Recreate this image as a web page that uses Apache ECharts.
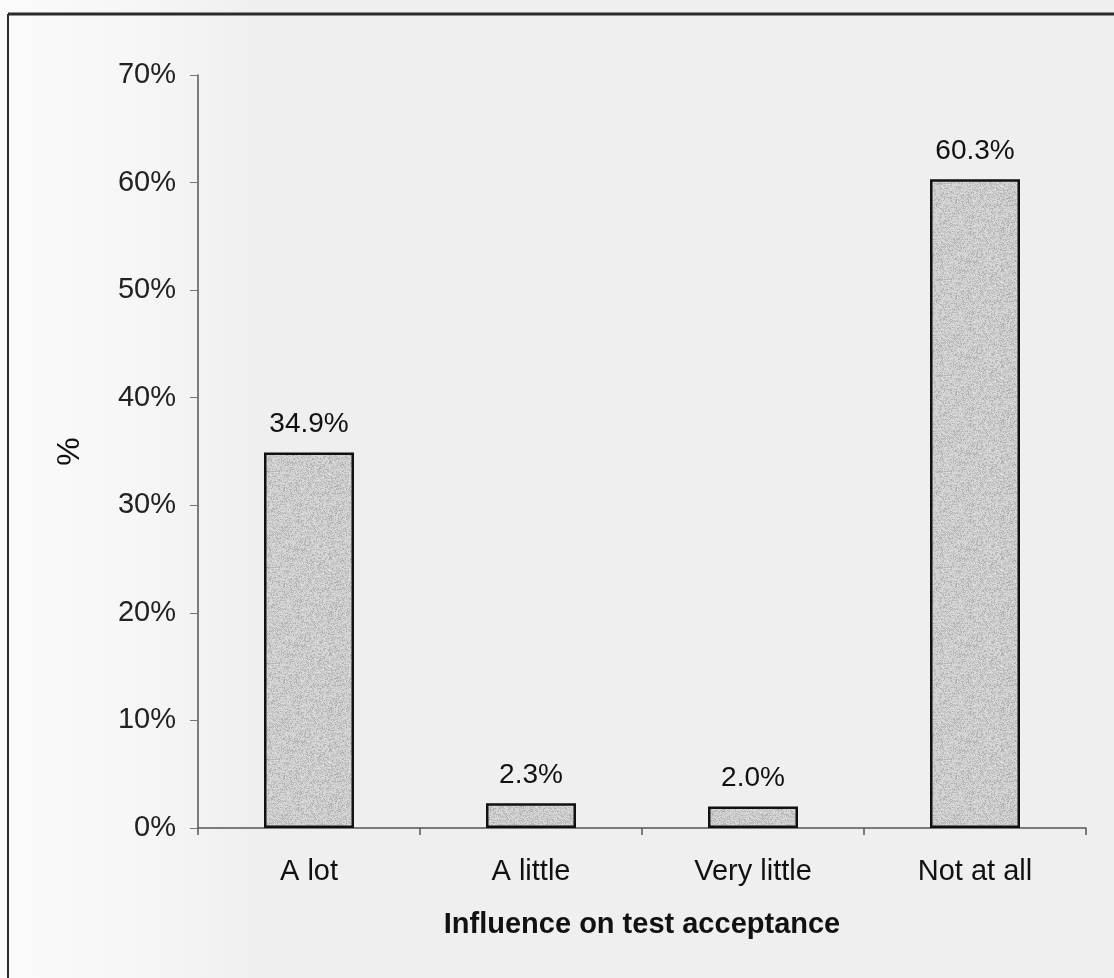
<!DOCTYPE html>
<html>
<head>
<meta charset="utf-8">
<title>Influence on test acceptance</title>
<script src="https://cdn.jsdelivr.net/npm/echarts@6/dist/echarts.min.js"></script>
<style>
  html, body { margin: 0; padding: 0; }
  body {
    width: 1114px; height: 978px; overflow: hidden;
    background: linear-gradient(to right, #fbfbfb 0px, #f6f6f6 140px, #efefef 260px, #efefef 100%);
  }
  #chart { width: 1114px; height: 978px; }
</style>
</head>
<body>
<div id="chart"></div>
<script>
// Share of respondents by how much the factor influenced test acceptance
const categories = ['A lot', 'A little', 'Very little', 'Not at all'];
const percentValues = [34.9, 2.3, 2.0, 60.3];
const yTickLabels = ['0%', '10%', '20%', '30%', '40%', '50%', '60%', '70%'];

const FONT = "'Liberation Sans', Arial, Helvetica, sans-serif";

// Grainy grey fill for the bars, built from a small deterministic hash
function grainPattern() {
  const size = 96;
  const c = document.createElement('canvas');
  c.width = size; c.height = size;
  const ctx = c.getContext('2d');
  const img = ctx.createImageData(size, size);
  let h = 2166136261;
  for (let i = 0; i < size * size; i++) {
    h ^= i; h = Math.imul(h, 16777619) >>> 0;
    h ^= h >>> 13; h = Math.imul(h, 1274126177) >>> 0;
    const r = (h & 255) / 255;
    const v = Math.round(218 - r * r * 48);
    img.data[i * 4] = v; img.data[i * 4 + 1] = v; img.data[i * 4 + 2] = v; img.data[i * 4 + 3] = 255;
  }
  ctx.putImageData(img, 0, 0);
  return c;
}

const chart = echarts.init(document.getElementById('chart'), null, { renderer: 'canvas' });

chart.setOption({
  backgroundColor: 'transparent',
  animation: false,
  grid: { left: 198, right: 28, top: 75, bottom: 150, containLabel: false },
  graphic: [
    { type: 'line', shape: { x1: 8, y1: 14, x2: 1114, y2: 14 }, style: { stroke: '#2a2a2a', lineWidth: 3 } },
    { type: 'line', shape: { x1: 8, y1: 14, x2: 8, y2: 978 }, style: { stroke: '#2a2a2a', lineWidth: 2 } }
  ],
  xAxis: {
    type: 'category',
    data: categories,
    name: 'Influence on test acceptance',
    nameLocation: 'middle',
    nameGap: 82,
    nameTextStyle: { fontFamily: FONT, fontSize: 29, fontWeight: 'bold', color: '#111' },
    axisLine: { show: true, lineStyle: { color: '#555', width: 1.5 } },
    axisTick: { show: true, inside: false, length: 7, alignWithLabel: false, lineStyle: { color: '#555', width: 1.5 } },
    axisLabel: { margin: 29, fontFamily: FONT, fontSize: 29, color: '#111' },
    splitLine: { show: false }
  },
  yAxis: {
    type: 'value',
    min: 0,
    max: 70,
    interval: 10,
    name: '%',
    nameLocation: 'middle',
    nameGap: 112,
    nameRotate: 90,
    nameTextStyle: { fontFamily: FONT, fontSize: 32, color: '#111' },
    axisLine: { show: true, lineStyle: { color: '#555', width: 1.5 } },
    axisTick: { show: true, inside: false, length: 8, lineStyle: { color: '#777', width: 1 } },
    axisLabel: {
      margin: 22,
      fontFamily: FONT,
      fontSize: 29,
      color: '#222',
      formatter: function (v) { return yTickLabels[Math.round(v / 10)]; }
    },
    splitLine: { show: false }
  },
  series: [{
    type: 'bar',
    data: percentValues,
    barWidth: 90,
    itemStyle: {
      color: { image: grainPattern(), repeat: 'repeat' },
      borderColor: '#111',
      borderWidth: 2.5
    },
    label: {
      show: true,
      position: 'top',
      distance: 14,
      fontFamily: FONT,
      fontSize: 28,
      color: '#111',
      formatter: function (p) { return p.value.toFixed(1) + '%'; }
    }
  }]
});
</script>
</body>
</html>
